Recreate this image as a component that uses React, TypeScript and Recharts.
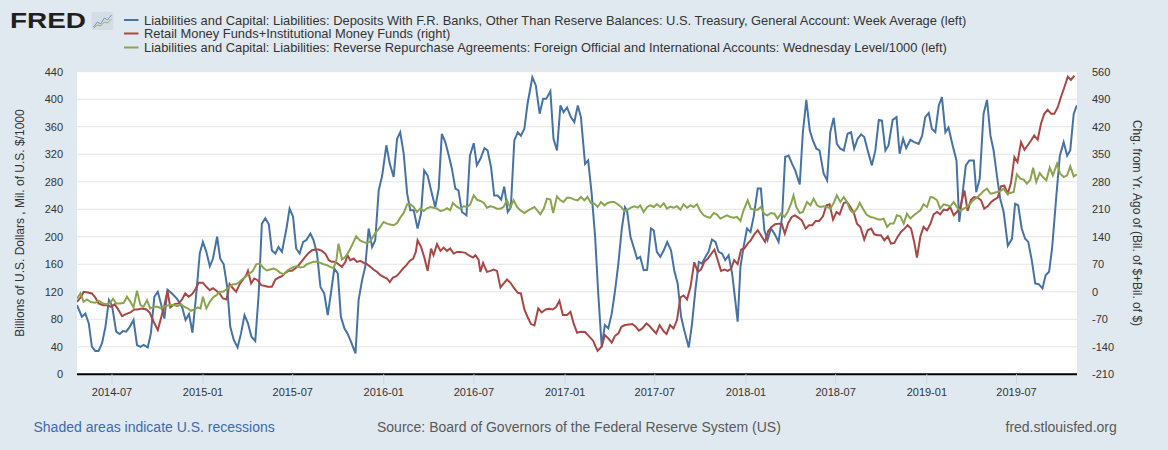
import React from 'react';
import { LineChart, Line, XAxis, YAxis, CartesianGrid } from 'recharts';

// x = weeks since 2014-04-21 (weekly observations)
const xTickWeeks = [10.1, 36.35, 62.2, 88.45, 114.45, 140.75, 166.6, 192.9, 218.75, 245.05, 270.9];
const xTickLabels = ['2014-07', '2015-01', '2015-07', '2016-01', '2016-07', '2017-01', '2017-07', '2018-01', '2018-07', '2019-01', '2019-07'];
const leftTicks = [0, 40, 80, 120, 160, 200, 240, 280, 320, 360, 400, 440];
const rightTicks = [-210, -140, -70, 0, 70, 140, 210, 280, 350, 420, 490, 560];

const legendLabels = [
  'Liabilities and Capital: Liabilities: Deposits With F.R. Banks, Other Than Reserve Balances: U.S. Treasury, General Account: Week Average (left)',
  'Retail Money Funds+Institutional Money Funds (right)',
  'Liabilities and Capital: Liabilities: Reverse Repurchase Agreements: Foreign Official and International Accounts: Wednesday Level/1000 (left)',
];

// Treasury General Account, week average (billions, left axis)
const treasuryAccount: [number, number][] = [
  [0, 100.6], [1.4, 83.7], [2.4, 88.5], [3.4, 74], [4.3, 40], [5.3, 33.9], [6.2, 33.9], [7.2, 45], [8.2, 69], [9.2, 108],
  [10.1, 100], [11.3, 62], [12.3, 58.5], [13.3, 63], [14.2, 62], [15.2, 69], [16.3, 79], [17.3, 42.6], [18.3, 40], [19.2, 42.6],
  [20.4, 39], [21.3, 59.5], [22.3, 112.7], [23.3, 120], [24.2, 103], [25.2, 81], [26.1, 123], [27.4, 117.5], [28.8, 110], [30.3, 98],
  [31.3, 79], [32.3, 87.5], [33.3, 60.5], [34.4, 117.5], [35.4, 175.6], [36.3, 192.5], [37.3, 178], [38.3, 157], [39.2, 168], [40.4, 200],
  [41.3, 168], [42.3, 160], [43.3, 127], [44.2, 69], [45.2, 50], [46.3, 39], [47.3, 59.5], [48.3, 86], [49.3, 74], [50.3, 54.7],
  [51.4, 48.4], [52.4, 117.5], [53.3, 219], [54.3, 227], [55.3, 218], [56.2, 180], [57.2, 175.6], [58.1, 185], [59.1, 178], [60.4, 212],
  [61.3, 241], [62.3, 229], [63.2, 183], [64.2, 175.6], [65.2, 192.5], [66.1, 195], [67.3, 204.6], [68.2, 195], [69.2, 175.6], [70.2, 127],
  [71.3, 117.5], [72.3, 86], [73.2, 117.5], [74.2, 154], [75.2, 146.6], [76.1, 83.7], [77.1, 66.8], [78.0, 59.5], [79.0, 47.4], [80.3, 30.5],
  [81.2, 108], [82.2, 137], [83.1, 156], [84.1, 212], [85.1, 185], [86.0, 195], [87.0, 267.5], [88.0, 289], [89.2, 333], [90.2, 306],
  [91.3, 287], [92.3, 342.5], [93.2, 352], [94.2, 321], [95.2, 262.6], [96.1, 238.5], [97.1, 238.5], [98.2, 212], [99.2, 233.6], [100.1, 296.5],
  [101.1, 289], [102.1, 267.5], [103.3, 243], [104.3, 270], [105.2, 349.7], [106.2, 337.6], [107.2, 318], [108.1, 299], [109.1, 270], [110.0, 267.5],
  [111.0, 236], [112.3, 231], [113.3, 318], [114.4, 336], [115.3, 304], [116.3, 313], [117.5, 329], [118.4, 325.5], [119.4, 301], [120.3, 260],
  [121.3, 260], [122.3, 254], [123.2, 273], [124.2, 236], [125.1, 243], [126.1, 340], [127.1, 352], [128.0, 347], [129.0, 357], [129.9, 393],
  [131.3, 432], [132.3, 420], [133.4, 379], [134.4, 400.5], [135.3, 400.5], [136.5, 411.6], [137.4, 342.5], [138.4, 325.5], [139.4, 391], [140.3, 381],
  [141.3, 388], [142.4, 374], [143.4, 366.6], [144.4, 391], [145.3, 374], [146.5, 306], [147.4, 311], [148.4, 262.6], [149.4, 200], [150.3, 117.5],
  [151.3, 40], [152.2, 71.6], [153.2, 66.8], [154.2, 88.5], [155.1, 120], [156.1, 161], [157.1, 212], [158.0, 243], [158.6, 238.5], [159.6, 200],
  [160.5, 185], [161.5, 168], [162.4, 170.7], [163.4, 151.4], [164.4, 152], [165.5, 212], [166.3, 209.4], [167.2, 178], [168.2, 170.7], [169.2, 180.4],
  [170.2, 192.5], [171.3, 180], [172.2, 151.4], [173.2, 132], [174.2, 83.7], [175.1, 64], [176.4, 39], [177.3, 71.6], [178.3, 122], [179.3, 163.5],
  [180.2, 161], [181.2, 170.7], [182.1, 178], [183.1, 196], [184.1, 192.5], [185.0, 178], [186.0, 175.6], [186.9, 166], [187.9, 173], [188.9, 146.6],
  [189.8, 108], [190.5, 76.4], [191.3, 156], [192.2, 185], [193.2, 212], [194.2, 207], [195.1, 228.8], [196.3, 270], [197.2, 270], [198.2, 209.4],
  [199.1, 195], [200.1, 212], [201.1, 204.6], [202.3, 192.5], [203.3, 228.8], [204.2, 316], [205.2, 318], [206.2, 306], [207.1, 296.5], [208.4, 276],
  [209.3, 352], [210.3, 399], [211.3, 354.5], [212.2, 340], [213.2, 328], [214.1, 325.5], [215.3, 291.7], [216.3, 282], [217.2, 352], [218.2, 373],
  [219.1, 335], [220.1, 328], [221.1, 325.5], [222.2, 349.7], [223.2, 352], [224.1, 328], [225.1, 342.5], [226.1, 348.8], [227.0, 345], [228.0, 325.5],
  [229.2, 303.8], [230.2, 325.5], [231.2, 370], [232.1, 369], [233.1, 325.5], [234.0, 332.8], [235.2, 370], [236.3, 374], [237.2, 320.7], [238.2, 342.5],
  [239.1, 329], [240.3, 341], [241.4, 337.6], [242.7, 335], [243.7, 347], [244.6, 374], [245.6, 380], [246.5, 357], [247.5, 352], [248.5, 391],
  [249.4, 403], [250.4, 352], [251.3, 359], [252.5, 332.8], [253.6, 311], [254.4, 221.5], [255.4, 265], [256.3, 303.8], [257.3, 311], [258.6, 311],
  [259.3, 265], [260.3, 284.4], [261.4, 378.7], [262.4, 399], [263.4, 347], [264.3, 325.5], [265.3, 287], [266.2, 255.4], [267.2, 236], [268.4, 187],
  [269.6, 197], [270.5, 248], [271.4, 245.7], [272.4, 212], [273.4, 197], [274.3, 192.5], [275.3, 166], [276.3, 132], [277.3, 131], [278.4, 124.8],
  [279.3, 144], [280.3, 149], [281.2, 185], [282.4, 260], [283.4, 318], [284.5, 337.6], [285.5, 318], [286.4, 325.5], [287.4, 378.7], [288.3, 391],
];

// Retail + institutional money funds, change from year ago (right axis)
const moneyFundsChange: [number, number][] = [
  [0, -25.5], [1.2, -12.8], [1.9, 0], [3.1, -1.8], [4.3, -4.3], [5.3, -14.5], [6.2, -29.7], [7.5, -34], [8.7, -34], [9.8, -38.2],
  [10.8, -32.3], [11.7, -42.4], [13.0, -62], [14.1, -56.8], [15.4, -52.6], [16.5, -45], [17.5, -45], [18.7, -42.4], [20.0, -45], [21.0, -53.4],
  [22.1, -76.3], [23.3, -97.4], [24.2, -67.8], [25.2, -34], [26.1, 2.4], [26.9, -39.9], [28.1, -31.4], [29.3, -29.7], [30.3, -19.6], [31.2, -4.3],
  [32.2, -12.8], [33.2, -6], [34.1, 5.8], [35.1, 22.8], [36.3, 22.8], [37.3, 12.6], [38.3, 4.1], [39.2, 9.2], [40.2, 2.4], [41.1, -4.3],
  [42.1, -17], [43.1, -19.6], [44.0, 19.4], [45.0, 8.4], [45.9, 0], [46.9, 19.4], [47.9, 31.2], [48.8, 42.2], [49.3, 53.2], [50.2, 21],
  [51.1, 33.8], [52.1, 29.5], [53.1, 16.8], [54.0, 15.1], [55.0, 12.6], [56.2, 12.6], [57.2, 31.2], [58.2, 36.3], [59.1, 39.7], [60.1, 48.2],
  [61.0, 53.2], [62.0, 53.2], [62.9, 59.2], [63.9, 67.6], [64.9, 78.6], [65.8, 88.8], [66.8, 99], [67.8, 105.7], [68.7, 107.4], [69.7, 107.4],
  [70.6, 104], [71.6, 97.2], [72.6, 80.3], [73.5, 76.1], [74.5, 76.1], [75.4, 70.2], [76.4, 63.4], [77.4, 76.1], [78.0, 93], [78.8, 80.3],
  [79.8, 84.5], [80.7, 76.1], [81.7, 78.6], [82.7, 73.5], [83.6, 70.2], [84.6, 63.4], [85.5, 56.6], [86.5, 50.7], [87.5, 42.2], [88.4, 38],
  [89.4, 33.8], [90.2, 24.5], [91.1, 36.3], [92.1, 39.7], [93.0, 48.2], [94.0, 59.2], [95.0, 67.6], [95.9, 78.6], [96.9, 83.7], [97.7, 101.5],
  [98.2, 131.1], [99.2, 114.2], [100.1, 88.8], [101.1, 53.2], [102.1, 110], [102.8, 93], [103.8, 121], [104.8, 104], [105.7, 112.5], [106.7, 104],
  [107.6, 110], [108.6, 97.2], [109.6, 101.5], [110.5, 101.5], [112.0, 99], [112.9, 93], [114.2, 87.1], [114.9, 93], [115.8, 82], [116.3, 50.7],
  [117.1, 73.5], [118.2, 50.7], [119.2, 53.2], [120.1, 56.6], [121.1, 53.2], [122.1, 10.9], [123.0, 21], [124.0, 31.2], [125.0, 22.8], [125.9, 10.9],
  [127.1, -2.6], [128.0, -4.3], [129.0, -45], [129.9, -63.6], [130.9, -82.2], [131.9, -85.6], [133.0, -42.4], [134.0, -52.6], [135.1, -45], [136.1, -43.3],
  [137.2, -45], [138.2, -38.2], [139.1, -23], [140.1, -59.3], [141.3, -59.3], [142.3, -50.9], [143.2, -80.5], [144.2, -104.2], [145.3, -101.7], [146.5, -102.5],
  [147.6, -112.7], [148.8, -124.5], [150.1, -149.9], [151.3, -139.7], [152.2, -110.1], [153.2, -118.6], [154.2, -129.6], [155.1, -112.7], [156.1, -105.9], [157.0, -89],
  [158.0, -84.7], [159.2, -83], [160.1, -82.2], [161.1, -89], [162.0, -99.1], [163.0, -93.2], [164.2, -80.5], [165.1, -87.3], [166.1, -97.4], [167.0, -105.9],
  [168.0, -84.7], [169.1, -100], [170.0, -107.6], [171.0, -84.7], [172.0, -93.2], [173.0, -72], [174.0, -14.5], [174.9, -9.4], [175.9, -19.6], [176.9, 12.6],
  [178.0, 75.2], [179.0, 50.7], [179.9, 56.6], [180.9, 76.1], [181.9, 84.5], [182.8, 95.5], [183.8, 107.4], [184.7, 82], [185.7, 53.2], [186.7, 56.6],
  [187.6, 53.2], [188.6, 58.3], [189.5, 80.3], [190.5, 70.2], [191.5, 107.4], [192.4, 110], [193.4, 122.6], [194.3, 131.1], [195.3, 146.3], [196.3, 156.5],
  [197.2, 143.8], [198.4, 126.9], [199.3, 154.8], [200.3, 165], [201.3, 171.7], [202.2, 173.4], [203.2, 173.4], [204.1, 148], [205.1, 175.1], [206.1, 190.3],
  [207.0, 194.6], [208.0, 188.7], [209.0, 181.9], [210.1, 160.7], [211.1, 169.2], [212.0, 169.2], [213.0, 180.2], [214.0, 180.2], [215.1, 192], [216.1, 220],
  [217.0, 222.5], [218.0, 183.6], [219.0, 203], [219.9, 197], [221.1, 226], [222.0, 228.4], [223.0, 215.7], [224.0, 200.5], [224.9, 173.4], [225.9, 165],
  [227.0, 132.8], [228.0, 156.5], [229.0, 160.7], [229.9, 146.3], [230.9, 143.8], [231.8, 143.8], [232.8, 131.1], [233.8, 141.3], [234.7, 122.6], [235.7, 124.3],
  [236.6, 139.6], [237.6, 152.3], [238.6, 160.7], [239.5, 169.2], [240.5, 160.7], [241.4, 126.9], [242.2, 87.1], [243.2, 141.3], [244.1, 165], [245.1, 156.5],
  [246.1, 173.4], [247.0, 197.1], [248.0, 203], [248.9, 197.1], [249.9, 209], [250.9, 207.3], [251.8, 215.7], [252.8, 194.6], [253.7, 203], [254.7, 215.7],
  [255.9, 258], [256.8, 205.6], [257.8, 234.4], [258.7, 241.1], [259.7, 239.4], [260.7, 232.7], [261.6, 211.5], [262.6, 217.4], [263.6, 228.4], [264.5, 234.4],
  [265.5, 239.4], [266.4, 268.2], [267.4, 269.9], [268.4, 249.6], [269.3, 276.7], [270.3, 342.7], [271.2, 330], [272.2, 380.8], [273.2, 361.3], [274.1, 372.3],
  [275.1, 385], [276.0, 397.7], [277.0, 386.7], [278.0, 429], [278.9, 452.7], [279.9, 462.9], [280.9, 452.7], [281.8, 452.7], [282.8, 469.6], [283.7, 495],
  [284.7, 520.4], [285.7, 547.5], [286.6, 539], [287.6, 550],
];

// Reverse repos, foreign official and international accounts / 1000 (left axis)
const foreignReverseRepo: [number, number][] = [
  [0, 110.3], [1.0, 117.5], [1.9, 105.4], [2.9, 108.8], [4.0, 105], [5.3, 104], [6.2, 107], [7.5, 103], [8.7, 102], [9.6, 104],
  [10.4, 109.8], [11.3, 103], [12.5, 103], [13.5, 104], [14.4, 112.7], [15.4, 105.4], [16.3, 97.2], [17.3, 121.4], [18.3, 100.6], [19.2, 98.2],
  [20.2, 107.9], [21.1, 95.8], [22.3, 98.2], [23.3, 98.2], [24.2, 95.8], [25.5, 99.2], [26.7, 100.6], [27.9, 100.6], [29.0, 99.2], [30.0, 102],
  [30.9, 98.2], [31.9, 95.8], [32.9, 92.4], [33.8, 94.3], [34.8, 97.2], [35.6, 95.8], [36.3, 112.7], [37.3, 95.8], [38.3, 105.4], [39.2, 111.7],
  [40.2, 115.1], [41.1, 120], [42.1, 120], [43.1, 123.3], [44.0, 127.2], [45.0, 131], [45.9, 131], [46.9, 134.5], [47.9, 139.3], [48.8, 142.7],
  [49.8, 146.6], [50.7, 150.4], [51.7, 160], [52.7, 161], [53.7, 155], [54.7, 151], [55.7, 152.4], [56.7, 153.8], [57.7, 151.4], [58.6, 147.5],
  [59.6, 145.6], [60.6, 150.4], [61.5, 153.8], [62.5, 156.2], [63.4, 157.2], [64.4, 155.3], [65.4, 156.2], [66.3, 160.1], [67.3, 162], [68.2, 163.5],
  [69.2, 163.5], [70.2, 162], [71.1, 160.1], [72.1, 158.7], [73.0, 156.2], [74.0, 154.3], [74.8, 166], [75.4, 190], [76.4, 166.9], [77.4, 170.7],
  [78.3, 178], [79.3, 187.7], [80.5, 200.7], [81.5, 195], [82.5, 192.5], [83.4, 191], [84.4, 192.5], [85.3, 199.8], [86.3, 207], [87.3, 213.3],
  [88.4, 221.5], [89.4, 219], [90.3, 217.7], [91.3, 216.7], [92.3, 220], [93.2, 227.8], [94.2, 234.6], [95.2, 247.2], [96.1, 247.2], [97.1, 243.3],
  [98.0, 236], [99.0, 240.9], [100.0, 237.5], [100.9, 241.4], [101.9, 243.3], [102.8, 242.3], [103.8, 240.9], [104.8, 237.5], [105.7, 238.5], [106.7, 241.4],
  [107.6, 238.5], [108.4, 249], [109.6, 243.3], [110.5, 240.9], [111.5, 244.3], [112.5, 243.3], [113.4, 247.2], [114.4, 260.2], [115.3, 254], [116.3, 252],
  [117.3, 249.1], [118.2, 242.3], [119.2, 244.3], [120.1, 243.3], [121.1, 240.9], [122.1, 240.9], [123.0, 243.3], [124.0, 253], [124.9, 242.3], [125.9, 253],
  [126.9, 243.3], [127.8, 238.5], [129.0, 234.6], [129.9, 237.5], [130.9, 240.4], [131.9, 243.3], [132.8, 237.5], [133.6, 232.7], [134.6, 240.9], [135.5, 255.4],
  [136.5, 254], [137.3, 234.6], [138.4, 258.8], [139.4, 253], [140.3, 250.6], [141.3, 256.8], [142.2, 256.8], [143.4, 254], [144.4, 253], [145.3, 257.8],
  [146.3, 253], [147.2, 257.8], [148.2, 249.1], [149.2, 248.1], [150.1, 243.3], [151.1, 250.6], [152.1, 245.7], [153.0, 249.1], [154.0, 250.6], [154.9, 250.6],
  [155.9, 247.2], [156.9, 243.3], [157.8, 237.5], [158.8, 239.4], [159.7, 242.3], [160.7, 244.3], [161.7, 242.3], [162.4, 245.7], [163.4, 236], [164.4, 243.3],
  [165.3, 245.7], [166.3, 243.3], [167.2, 247.2], [168.2, 243.3], [169.2, 248.6], [170.1, 240.9], [171.1, 243.8], [172.0, 242.3], [173.0, 244.3], [174.0, 239.4],
  [174.9, 247.2], [175.9, 242.3], [176.9, 245.7], [177.8, 243.3], [178.8, 247.2], [179.7, 237.5], [180.7, 231.2], [181.7, 228.8], [182.6, 227.8], [183.6, 234.6],
  [184.5, 232.7], [185.5, 226.4], [186.5, 228.8], [187.4, 231.2], [188.4, 228.8], [189.3, 227.8], [190.3, 228.8], [191.3, 223], [192.2, 238.5], [193.4, 253],
  [194.3, 240.9], [195.3, 239.4], [196.3, 239.4], [197.2, 243.3], [198.2, 232.7], [199.1, 231.2], [200.1, 234.6], [201.1, 233.6], [202.0, 226.4], [203.0, 233.6],
  [204.0, 228.8], [204.9, 236], [205.9, 248.1], [206.6, 260.2], [207.4, 243.3], [208.4, 234.6], [209.3, 236], [210.5, 250.6], [211.5, 245.7], [212.4, 255.4],
  [213.4, 245.7], [214.3, 243.3], [215.3, 244.3], [216.3, 243.3], [217.2, 240.9], [218.2, 249.1], [219.1, 260.2], [220.1, 250.6], [221.1, 257.8], [222.0, 250.6],
  [223.0, 238.5], [223.9, 234.6], [224.9, 240.9], [225.7, 249.1], [226.7, 240], [227.7, 232], [228.8, 228.8], [229.7, 227.8], [230.7, 225.9], [231.6, 224.9],
  [232.6, 226.4], [233.6, 214.3], [234.5, 219.1], [235.5, 219.1], [236.4, 231.2], [237.4, 229.8], [238.4, 219.1], [239.3, 233.6], [240.3, 226.4], [241.3, 231.2],
  [242.2, 234.6], [243.2, 238.5], [244.1, 247.2], [245.1, 243.3], [246.1, 257.8], [247.0, 256.8], [248.0, 253], [248.9, 240.9], [249.9, 247.2], [250.9, 245.7],
  [251.8, 244.3], [252.8, 250.6], [253.7, 243.3], [254.7, 237.5], [255.7, 240.9], [256.6, 243.3], [257.6, 248.1], [258.6, 254], [259.5, 256.8], [260.5, 261.7],
  [261.4, 266.5], [262.4, 269.9], [263.4, 262.6], [264.3, 263.6], [265.3, 265], [266.2, 266.5], [267.2, 269.9], [268.2, 262.6], [269.1, 263.6], [270.1, 265],
  [271.0, 290.7], [272.0, 284.4], [273.0, 283], [273.9, 277.2], [274.9, 283], [275.7, 300.4], [276.6, 279.6], [277.6, 292.6], [278.5, 286.8], [279.5, 282],
  [280.5, 300.4], [281.4, 289.3], [282.6, 306.2], [283.5, 291.7], [284.5, 286.8], [285.5, 289.3], [286.4, 302.3], [287.4, 287.8], [288.3, 290.7],
];

const seriesColors = ['#4572a7', '#aa4643', '#89a54e'];

const toRows = (pairs: [number, number][]) => pairs.map(([w, v]) => ({ w, v }));

const FONT = '"Liberation Sans", Arial, Helvetica, sans-serif';

export default function App() {
  const W = 1168;
  const H = 450;
  return (
    <div style={{ position: 'fixed', left: 0, top: 0, width: W, height: H, background: '#e1e9f0', fontFamily: FONT, overflow: 'hidden' }}>
      <LineChart width={W} height={H} margin={{ top: 71.7, right: 0, bottom: 45.7, left: 0 }}>
        <CartesianGrid yAxisId="left" vertical={false} stroke="#e6e6e6" fill="#ffffff" horizontalValues={leftTicks} />
        <XAxis
          dataKey="w"
          type="number"
          domain={[0, 288.35]}
          allowDataOverflow
          ticks={xTickWeeks}
          interval={0}
          tickFormatter={(v: number) => {
            const i = xTickWeeks.indexOf(v);
            return i >= 0 ? xTickLabels[i] : '';
          }}
          height={30}
          axisLine={{ stroke: '#000000', strokeWidth: 2 }}
          tickLine={{ stroke: '#ccd6eb' }}
          tickSize={10}
          tickMargin={3.5}
          tick={{ fill: '#333333', fontSize: 11 }}
        />
        <YAxis
          yAxisId="left"
          orientation="left"
          width={77}
          domain={[0, 440]}
          ticks={leftTicks}
          interval={0}
          allowDataOverflow
          axisLine={false}
          tickLine={false}
          tickSize={0}
          tickMargin={14}
          tick={{ fill: '#333333', fontSize: 11 }}
        />
        <YAxis
          yAxisId="right"
          orientation="right"
          width={91}
          domain={[-210, 560]}
          ticks={rightTicks}
          interval={0}
          allowDataOverflow
          axisLine={false}
          tickLine={false}
          tickSize={0}
          tickMargin={15}
          tick={{ fill: '#333333', fontSize: 11, textAnchor: 'start' }}
        />
        <Line
          yAxisId="left"
          data={toRows(treasuryAccount)}
          dataKey="v"
          name={legendLabels[0]}
          type="linear"
          stroke={seriesColors[0]}
          strokeWidth={2}
          dot={false}
          activeDot={false}
          isAnimationActive={false}
        />
        <Line
          yAxisId="right"
          data={toRows(moneyFundsChange)}
          dataKey="v"
          name={legendLabels[1]}
          type="linear"
          stroke={seriesColors[1]}
          strokeWidth={2}
          dot={false}
          activeDot={false}
          isAnimationActive={false}
        />
        <Line
          yAxisId="left"
          data={toRows(foreignReverseRepo)}
          dataKey="v"
          name={legendLabels[2]}
          type="linear"
          stroke={seriesColors[2]}
          strokeWidth={2}
          dot={false}
          activeDot={false}
          isAnimationActive={false}
        />
      </LineChart>
      <svg width={W} height={H} style={{ position: 'absolute', left: 0, top: 0, pointerEvents: 'none' }}>
        {/* FRED logo */}
        <text x={10} y={28.3} fontSize={22} fontWeight={700} fill="#231f20" textLength={76} lengthAdjust="spacingAndGlyphs" fontFamily={FONT}>FRED</text>
        <g transform="translate(91.5,12)">
          <rect x={0} y={0} width={22} height={18} rx={2} fill="#d4dde6" />
          <polyline points="2,15 6,10 9,12 13,6 16,8 20,3" fill="none" stroke="#6f96c4" strokeWidth={1} />
          <polyline points="2,16 6,13 9,14 13,10 16,11 20,7" fill="none" stroke="#8fb06a" strokeWidth={1} />
        </g>
        {/* Legend */}
        {legendLabels.map((label, i) => {
          const y = [20, 33.5, 47.5][i];
          return (
            <g key={label}>
              <line x1={124} x2={138.5} y1={y} y2={y} stroke={seriesColors[i]} strokeWidth={2} />
              <text x={144} y={y} dominantBaseline="central" fontSize={12.9} fill="#333333" fontFamily={FONT}>{label}</text>
            </g>
          );
        })}
        {/* Axis titles */}
        <text transform="translate(20,223) rotate(-90)" textAnchor="middle" dominantBaseline="central" fontSize={12} fill="#333333" fontFamily={FONT}>
          Billions of U.S. Dollars , Mil. of U.S. $/1000
        </text>
        <text transform="translate(1137,223) rotate(90)" textAnchor="middle" dominantBaseline="central" fontSize={12} fill="#333333" fontFamily={FONT}>
          Chg. from Yr. Ago of (Bil. of $+Bil. of $)
        </text>
        {/* Footer */}
        <text x={33.5} y={427} dominantBaseline="central" fontSize={14} fill="#3b6ab0" fontFamily={FONT}>Shaded areas indicate U.S. recessions</text>
        <text x={377} y={427} dominantBaseline="central" fontSize={14} fill="#595959" fontFamily={FONT}>Source: Board of Governors of the Federal Reserve System (US)</text>
        <text x={1005.5} y={427} dominantBaseline="central" fontSize={14} fill="#595959" fontFamily={FONT}>fred.stlouisfed.org</text>
      </svg>
    </div>
  );
}
